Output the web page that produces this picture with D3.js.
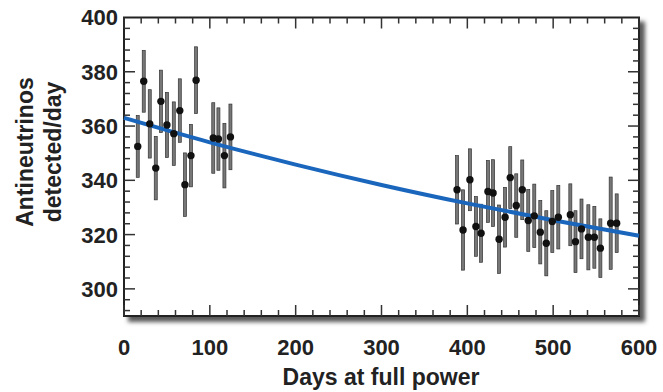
<!DOCTYPE html>
<html lang="en">
<head>
    <meta charset="UTF-8">
    <title>Antineutrinos detected per day</title>
    <script src="https://d3js.org/d3.v7.min.js"></script>
    <style>
        body { margin: 0; background: #fff; }
        text { font-family: "Liberation Sans", Arial, sans-serif; font-weight: bold; fill: #222; }
    </style>
</head>
<body>
    <div id="grafico"></div>

    <script>
        // valores
        const days = [16, 23, 30, 37, 43, 50, 58, 65, 71, 78, 84, 104, 110, 117, 124,
            388, 395, 403, 410, 416, 424, 430, 437, 444, 450, 457, 464, 471, 478, 485,
            492, 499, 506, 520, 526, 533, 541, 548, 555, 567, 574];
        const rates = [352.5, 376.5, 360.8, 344.5, 369.1, 360.4, 357.2, 365.7, 338.4, 349.1, 376.9, 355.6, 355.2, 349.1, 356,
            336.5, 321.7, 340.2, 323, 320.5, 335.9, 335.3, 318.3, 326.4, 341, 330.7, 336.5, 325.2, 326.9, 320.9,
            316.8, 324.8, 326.4, 327.3, 317.4, 322.1, 319, 319, 315, 324.2, 324.2];
        const errors = [11.4, 11.4, 12.6, 11.7, 11.5, 12, 11.7, 11.7, 11.7, 11.5, 12.3, 13, 11.5, 11.9, 12.1,
            12.6, 14.8, 11.4, 11, 10.7, 11.4, 12.3, 12.6, 11, 11.4, 11.7, 11, 11.4, 11.7, 11.7,
            12, 11.4, 11.7, 11.4, 11.4, 11, 12, 11.4, 10.8, 17, 10.8];

        // curva ajustada (pontos lidos)
        const fitDays = [0, 100, 200, 300, 400, 500, 600];
        const fitRates = [363, 354, 345.8, 338.3, 331.5, 325.3, 319.6];

        const xTicks = [0, 100, 200, 300, 400, 500, 600];
        const yTicks = [300, 320, 340, 360, 380, 400];

        const width = 663, height = 392;
        const mLeft = 124, mRight = 639, mTop = 17.5, mBottom = 316;

        const svg = d3.select('#grafico').append('svg')
            .attr('width', width)
            .attr('height', height);

        const x = d3.scaleLinear().domain([0, 600]).range([mLeft, mRight]);
        const y = d3.scaleLinear().domain([290, 400]).range([mBottom, mTop]);

        // sombra da moldura
        const defs = svg.append('defs');
        const f = defs.append('filter').attr('id', 'sombra')
            .attr('x', '-5%').attr('y', '-5%').attr('width', '115%').attr('height', '115%');
        f.append('feDropShadow').attr('dx', 5).attr('dy', 5)
            .attr('stdDeviation', 2).attr('flood-color', '#444').attr('flood-opacity', 0.9);

        svg.append('rect')
            .attr('x', mLeft).attr('y', mTop)
            .attr('width', mRight - mLeft).attr('height', mBottom - mTop)
            .attr('fill', '#fff')
            .attr('stroke', '#222')
            .attr('stroke-width', 2)
            .attr('filter', 'url(#sombra)');

        // ticks para dentro nos quatro lados
        const xMinor = d3.range(0, 601, 20);
        const yMinor = d3.range(292, 400, 4);
        const g = svg.append('g').attr('stroke', '#333').attr('stroke-width', 1.5);

        xMinor.forEach(d => {
            const len = d % 100 === 0 ? 11 : 6;
            g.append('line').attr('x1', x(d)).attr('x2', x(d)).attr('y1', mBottom).attr('y2', mBottom - len);
            g.append('line').attr('x1', x(d)).attr('x2', x(d)).attr('y1', mTop).attr('y2', mTop + len);
        });
        yMinor.forEach(d => {
            const len = d % 20 === 0 ? 11 : 6;
            g.append('line').attr('y1', y(d)).attr('y2', y(d)).attr('x1', mLeft).attr('x2', mLeft + len);
            g.append('line').attr('y1', y(d)).attr('y2', y(d)).attr('x1', mRight).attr('x2', mRight - len);
        });

        // rótulos dos eixos
        svg.selectAll('.xl').data(xTicks).enter().append('text')
            .attr('x', d => x(d))
            .attr('y', 355)
            .attr('text-anchor', 'middle')
            .attr('font-size', 22)
            .text(d => d);

        svg.selectAll('.yl').data(yTicks).enter().append('text')
            .attr('x', 118)
            .attr('y', d => y(d))
            .attr('dy', '0.36em')
            .attr('text-anchor', 'end')
            .attr('font-size', 22)
            .text(d => d);

        svg.append('text')
            .attr('x', 381).attr('y', 385)
            .attr('text-anchor', 'middle')
            .attr('font-size', 23)
            .text('Days at full power');

        const yt = svg.append('text')
            .attr('transform', 'translate(0,152) rotate(-90)')
            .attr('text-anchor', 'middle')
            .attr('font-size', 23);
        yt.append('tspan').attr('x', 0).attr('y', 33).text('Antineutrinos');
        yt.append('tspan').attr('x', 0).attr('y', 61).text('detected/day');

        // barras de erro
        svg.selectAll('.err').data(days).enter().append('rect')
            .attr('x', d => x(d) - 1.5)
            .attr('y', (d, i) => y(rates[i] + errors[i]))
            .attr('width', 3)
            .attr('height', (d, i) => y(rates[i] - errors[i]) - y(rates[i] + errors[i]))
            .attr('fill', '#777')
            .attr('stroke', '#333')
            .attr('stroke-width', 0.7);

        // curva ajustada
        const linha = d3.line()
            .x(d => x(d))
            .y((d, i) => y(fitRates[i]))
            .curve(d3.curveMonotoneX);
        svg.append('path')
            .datum(fitDays)
            .attr('d', linha)
            .attr('fill', 'none')
            .attr('stroke', '#1a66bd')
            .attr('stroke-width', 4);

        // pontos
        svg.selectAll('.pt').data(days).enter().append('circle')
            .attr('cx', d => x(d))
            .attr('cy', (d, i) => y(rates[i]))
            .attr('r', 3.7)
            .attr('fill', '#111');
    </script>
</body>
</html>
